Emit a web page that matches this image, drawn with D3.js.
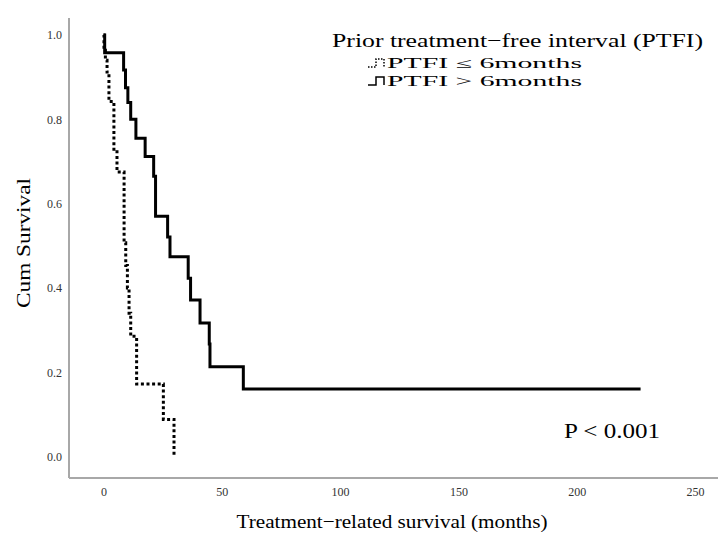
<!DOCTYPE html>
<html>
<head>
<meta charset="utf-8">
<script src="https://cdn.jsdelivr.net/npm/d3@7"></script>
<style>
  body { margin: 0; background: #fff; }
  text { font-family: 'Liberation Serif', 'DejaVu Serif', serif; }
</style>
</head>
<body>
<script>
const w = 718
const h = 536

// PTFI <= 6 months (dotted)
const shortTimes = [0, 0.2, 0.8, 1.5, 2.3, 4.4, 5.7, 8.7, 9.4, 10.1, 10.8, 11.5, 14.0, 25.3, 29.8]
const shortSurv = [1, 0.964, 0.94, 0.912, 0.842, 0.723, 0.675, 0.507, 0.453, 0.40, 0.34, 0.285, 0.172, 0.088, 0]
// PTFI > 6 months (solid)
const longTimes = [0, 0.5, 8.5, 9.3, 10.3, 11.5, 13.7, 17.6, 21.2, 22, 27.1, 28.1, 35.8, 36.8, 40.8, 44.7, 45, 59.1, 227]
const longSurv = [1, 0.958, 0.917, 0.875, 0.84, 0.80, 0.755, 0.712, 0.665, 0.57, 0.521, 0.474, 0.423, 0.371, 0.317, 0.267, 0.213, 0.16, 0.16]

const xTicks = [0, 50, 100, 150, 200, 250]
const yTicks = [0, 0.2, 0.4, 0.6, 0.8, 1.0]
const legendLabels = ['PTFI \u2264 6months', 'PTFI > 6months']

const svg = d3.select('body').append('svg').attr('width', w).attr('height', h)
svg.append('rect').attr('width', w).attr('height', h).attr('fill', '#fff')

const xScale = d3.scaleLinear().domain([0, 250]).range([103.5, 695])
const yScale = d3.scaleLinear().domain([0, 1]).range([456.5, 35])

// plot frame (left + bottom only)
const frameLeft = 69, frameBottom = 478, frameTop = 18
svg.append('line').attr('x1', frameLeft).attr('x2', frameLeft).attr('y1', frameTop).attr('y2', frameBottom)
  .attr('stroke', '#a8a8a8').attr('stroke-width', 2)
svg.append('line').attr('x1', frameLeft).attr('x2', w).attr('y1', frameBottom).attr('y2', frameBottom)
  .attr('stroke', '#a8a8a8').attr('stroke-width', 2)

const xAxis = d3.axisBottom(xScale).tickValues(xTicks).tickSize(0).tickPadding(0)
svg.append('g').attr('transform', 'translate(0,' + 487 + ')').call(xAxis)
  .call(g => g.select('.domain').remove())
  .selectAll('text').attr('font-size', 12).attr('fill', '#333').attr('dy', '0.71em')
  .style('font-family', "'Liberation Serif', serif")

const yAxis = d3.axisLeft(yScale).tickValues(yTicks).tickSize(0).tickPadding(0).tickFormat(d3.format('.1f'))
svg.append('g').attr('transform', 'translate(62,0)').call(yAxis)
  .call(g => g.select('.domain').remove())
  .selectAll('text').attr('font-size', 12).attr('fill', '#333')
  .style('font-family', "'Liberation Serif', serif")

const line = d3.line().curve(d3.curveStepAfter)
  .x(d => xScale(d[0])).y(d => yScale(d[1]))

svg.append('path').datum(longTimes.map((t, i) => [t, longSurv[i]]))
  .attr('d', line).attr('fill', 'none').attr('stroke', '#000').attr('stroke-width', 3)

svg.append('path').datum(shortTimes.map((t, i) => [t, shortSurv[i]]))
  .attr('d', line).attr('fill', 'none').attr('stroke', '#000').attr('stroke-width', 3)
  .attr('stroke-dasharray', '3,2.6')

// axis titles
svg.append('text').attr('x', 392).attr('y', 528).attr('text-anchor', 'middle')
  .attr('font-size', 19).attr('textLength', 311).attr('lengthAdjust', 'spacingAndGlyphs')
  .text('Treatment\u2212related survival (months)')
svg.append('text').attr('transform', 'translate(30,243) rotate(-90)').attr('text-anchor', 'middle')
  .attr('font-size', 18).attr('textLength', 130).attr('lengthAdjust', 'spacingAndGlyphs')
  .text('Cum Survival')

// legend
svg.append('text').attr('x', 332).attr('y', 47).attr('font-size', 19)
  .attr('textLength', 371).attr('lengthAdjust', 'spacingAndGlyphs')
  .text('Prior treatment\u2212free interval (PTFI)')

const legend = svg.append('g').attr('transform', 'translate(368,58)')
const entries = legend.selectAll('g').data(legendLabels).enter().append('g')
  .attr('transform', (d, i) => 'translate(0,' + i * 18 + ')')
entries.append('path').attr('d', 'M0,9H8V1H16V9').attr('fill', 'none').attr('stroke', '#000')
  .attr('stroke-width', 1.5).attr('stroke-dasharray', (d, i) => i === 0 ? '1.5,1.5' : null)
entries.append('text').attr('x', 19).attr('y', 10).attr('font-size', 14)
  .attr('textLength', 195).attr('lengthAdjust', 'spacingAndGlyphs').text(d => d)

svg.append('text').attr('x', 564).attr('y', 438).attr('font-size', 20)
  .attr('textLength', 96).attr('lengthAdjust', 'spacingAndGlyphs').text('P < 0.001')
</script>
</body>
</html>
